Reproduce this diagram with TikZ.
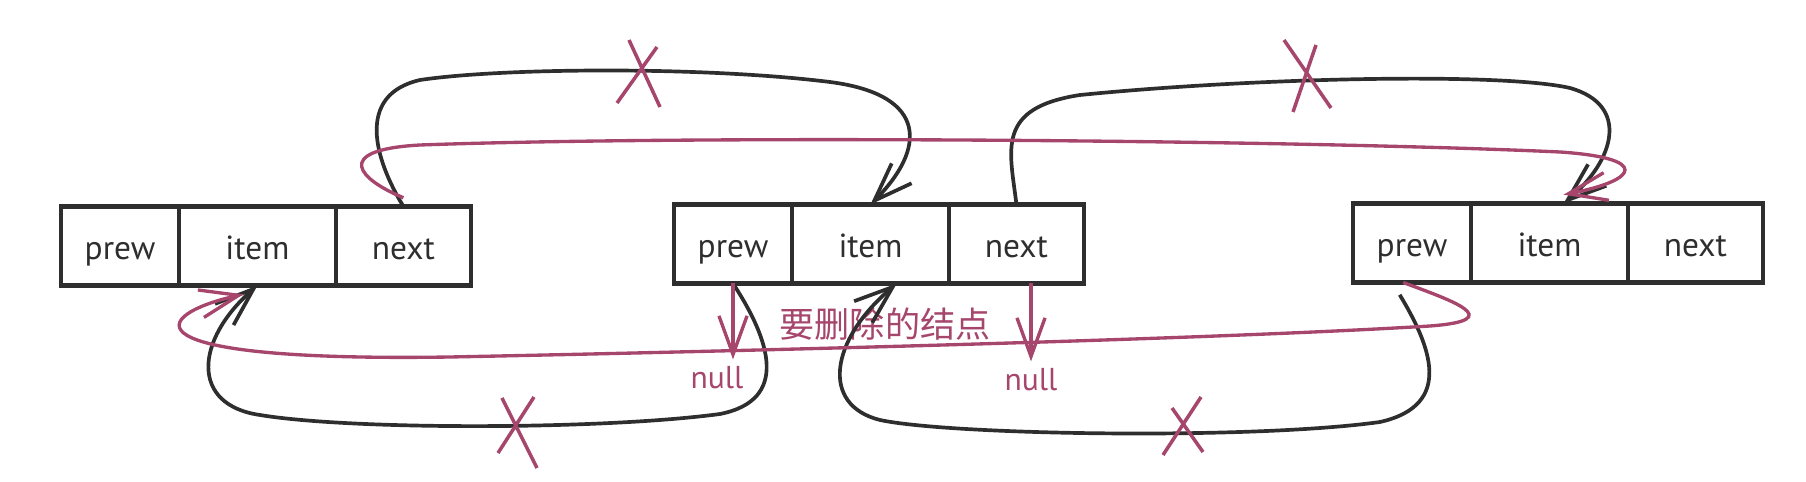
\documentclass[tikz,border=0pt]{standalone}
\usepackage{fontspec}
\setmainfont{PT Sans}
\newfontfamily\cjkfont{Noto Sans CJK SC}
\usetikzlibrary{positioning,arrows.meta}
\definecolor{inkgrey}{HTML}{2E2E2E}
\definecolor{delred}{HTML}{A6466C}
\tikzset{
  cell/.style={draw=inkgrey, line width=2.6pt, minimum height=1.58cm, inner sep=0pt, outer sep=0pt, text=inkgrey, text height=15pt, text depth=0pt, font=\fontsize{19}{22}\selectfont},
  link/.style={draw=inkgrey, line width=2.1pt, -{Straight Barb[length=22pt,width=16pt]}},
  dellink/.style={draw=delred, line width=1.9pt, -{Straight Barb[length=22pt,width=16pt]}},
  strike/.style={draw=delred, line width=2pt},
  nulltext/.style={text=delred, font=\fontsize{18}{20}\selectfont, inner sep=4pt}
}

\begin{document}
\begin{tikzpicture}[x=0.02cm, y=-0.02cm]
        \useasboundingbox (0,0) rectangle (1806,482);

        % first node
        \node[cell, minimum width=2.36cm] (p1) at (120,246) {prew};
        \node[cell, minimum width=3.14cm, right=0pt of p1] (i1) {item};
        \node[cell, minimum width=2.7cm, right=0pt of i1] (n1) {next};
        % node to delete
        \node[cell, minimum width=2.36cm] (p2) at (733,244) {prew};
        \node[cell, minimum width=3.14cm, right=0pt of p2] (i2) {item};
        \node[cell, minimum width=2.7cm, right=0pt of i2] (n2) {next};
        % last node
        \node[cell, minimum width=2.36cm] (p3) at (1412,243) {prew};
        \node[cell, minimum width=3.14cm, right=0pt of p3] (i3) {item};
        \node[cell, minimum width=2.7cm, right=0pt of i3] (n3) {next};

        \node[nulltext] (nullA) at (717,378) {null};
        \node[nulltext] (nullB) at (1031,380) {null};
        \node[text=delred, font=\cjkfont\fontsize{20}{22}\selectfont] (label) at (885,324) {要删除的结点};

        % old links
        \draw[link] (n1.north) .. controls (375,160) and (355,95) .. (420,80) .. controls (500,68) and (700,66) .. (830,82) .. controls (930,95) and (925,150) .. (i2.north);
        \draw[link] (n2.north) .. controls (1010,150) and (995,108) .. (1080,95) .. controls (1250,78) and (1500,72) .. (1570,88) .. controls (1630,105) and (1615,160) .. ([xshift=8pt]i3.north);
        \draw[link] (p2.south) .. controls (770,340) and (790,400) .. (720,414) .. controls (600,430) and (350,430) .. (260,415) .. controls (190,405) and (195,340) .. (i1.south);
        \draw[link] ([xshift=-7pt,yshift=-7pt]p3.south) .. controls (1430,345) and (1455,405) .. (1380,422) .. controls (1250,440) and (950,435) .. (880,420) .. controls (820,405) and (830,340) .. ([xshift=15pt]i2.south);

        % new links
        \draw[dellink] ([yshift=5pt]n1.north) .. controls (360,180) and (330,150) .. (420,145) .. controls (700,135) and (1300,140) .. (1560,152) .. controls (1650,158) and (1640,180) .. ([xshift=8pt,yshift=5pt]i3.north);
        \draw[dellink] ([xshift=-5pt]p3.south) .. controls (1450,300) and (1510,320) .. (1430,326) .. controls (1200,340) and (700,352) .. (450,357) .. controls (120,362) and (150,315) .. ([xshift=-8pt,yshift=-5pt]i1.south);
        \draw[dellink] (p2.south) -- (p2.south |- nullA.north);
        \draw[dellink] (nullB.north |- n2.south) -- (nullB.north);

        % crosses
        \draw[strike] (629,40) -- (660,107) (657,47) -- (617,103);
        \draw[strike] (1284,40) -- (1331,108) (1316,45) -- (1293,112);
        \draw[strike] (502,398) -- (537,468) (534,397) -- (498,453);
        \draw[strike] (1201,397) -- (1163,455) (1172,408) -- (1203,452);
    \end{tikzpicture}
\end{document}
